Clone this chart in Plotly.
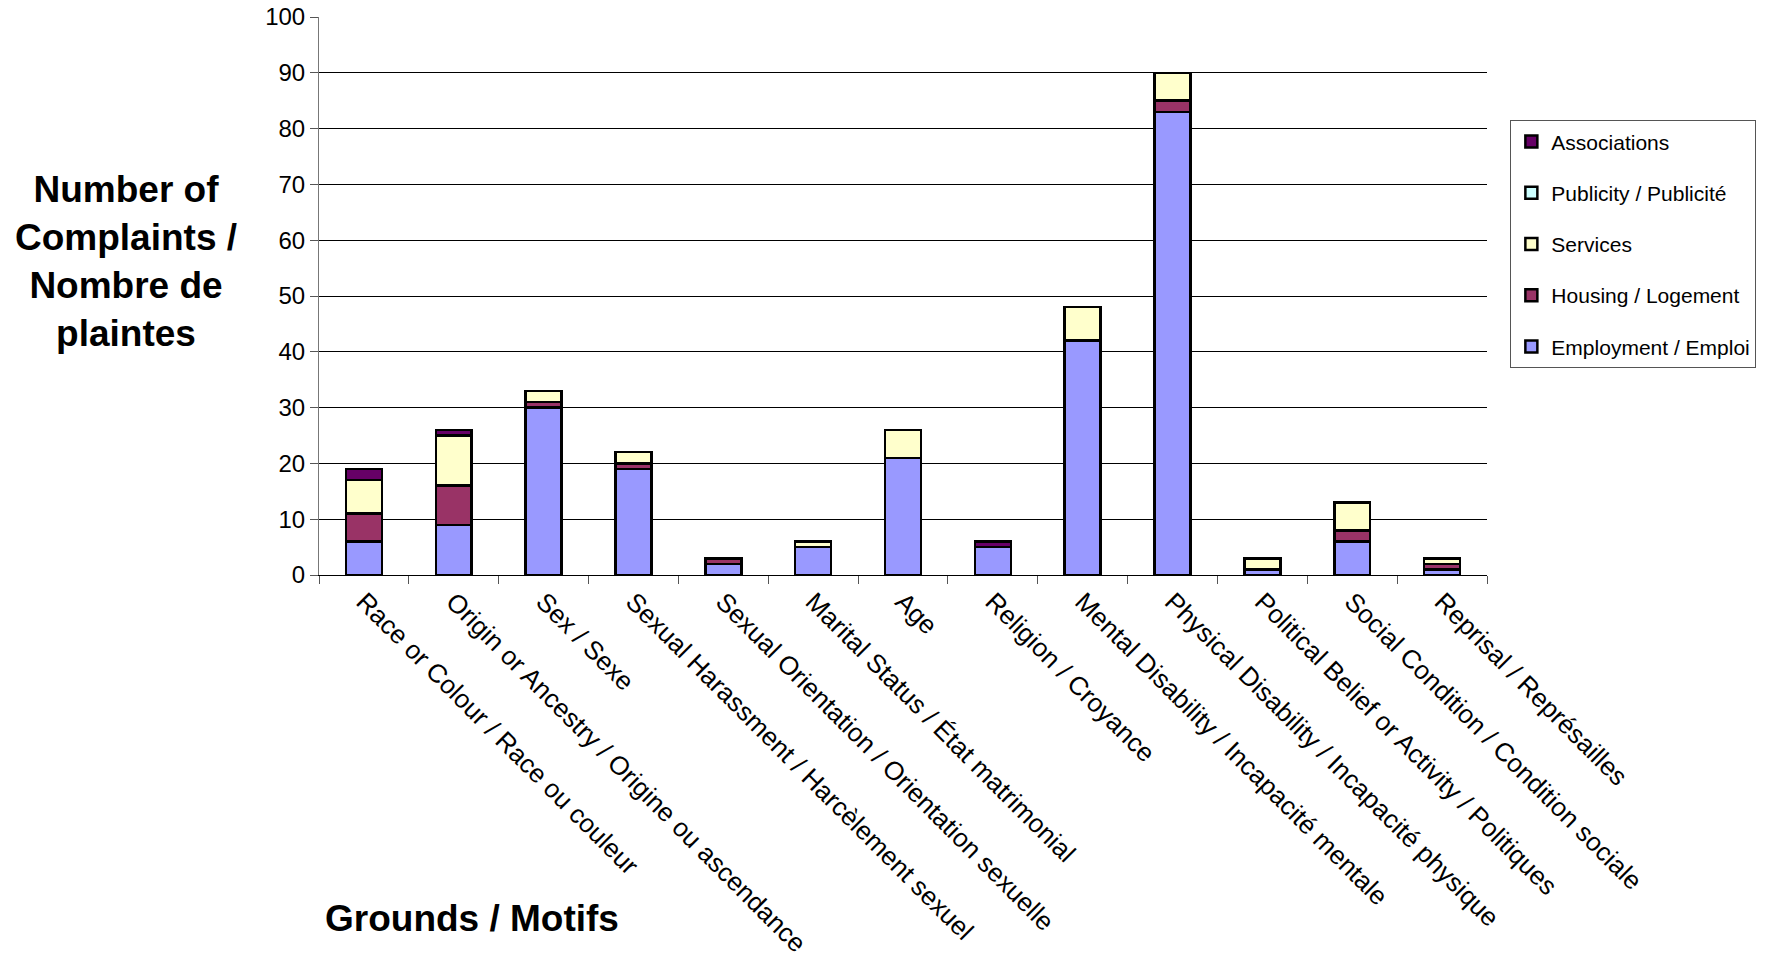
import plotly.graph_objects as go

categories = [
    "Race or Colour / Race ou couleur",
    "Origin or Ancestry / Origine ou ascendance",
    "Sex / Sexe",
    "Sexual Harassment / Harcèlement sexuel",
    "Sexual Orientation / Orientation sexuelle",
    "Marital Status / État matrimonial",
    "Age",
    "Religion / Croyance",
    "Mental Disability / Incapacité mentale",
    "Physical Disability / Incapacité physique",
    "Political Belief or Activity / Politiques",
    "Social Condition / Condition sociale",
    "Reprisal / Représailles",
]

employment = [6, 9, 30, 19, 2, 5, 21, 5, 42, 83, 1, 6, 1]
housing = [5, 7, 1, 1, 1, 0, 0, 0, 0, 2, 0, 2, 1]
services = [6, 9, 2, 2, 0, 1, 5, 0, 6, 5, 2, 5, 1]
publicity = [0, 0, 0, 0, 0, 0, 0, 0, 0, 0, 0, 0, 0]
associations = [2, 1, 0, 0, 0, 0, 0, 1, 0, 0, 0, 0, 0]

series = [
    ("Employment / Emploi", employment, "#9999FF"),
    ("Housing / Logement", housing, "#993366"),
    ("Services", services, "#FFFFCC"),
    ("Publicity / Publicité", publicity, "#CCFFFF"),
    ("Associations", associations, "#660066"),
]

FONT = "Liberation Sans, Arial, sans-serif"

fig = go.Figure()
for i, (name, vals, col) in enumerate(series):
    fig.add_trace(go.Bar(
        x=categories, y=vals, name=name, legendgroup=name,
        legendrank=1000 - i,
        marker=dict(color=col, line=dict(color="black", width=2.5)),
    ))

fig.update_layout(
    barmode="stack",
    bargap=0.6,
    width=1792, height=964,
    margin=dict(l=319, r=305, t=17, b=389),
    paper_bgcolor="white", plot_bgcolor="white",
    font=dict(family=FONT, size=24, color="black"),
    showlegend=True,
    legend=dict(
        x=1.02, y=0.815, xanchor="left", yanchor="top",
        traceorder="grouped", tracegroupgap=21,
        bordercolor="#555555", borderwidth=1,
        font=dict(family=FONT, size=21, color="black"),
        itemwidth=30,
    ),
    xaxis=dict(
        type="category", tickangle=45, ticks="outside", tickson="boundaries",
        ticklen=8, tickcolor="#555555", showline=True, linecolor="black",
        linewidth=1, showgrid=False, automargin=False,
        tickfont=dict(family=FONT, size=26, color="black"),
    ),
    yaxis=dict(
        range=[0, 100], dtick=10, ticks="outside", ticklen=8,
        tickcolor="#555555", showline=True, linecolor="#777777", linewidth=1,
        showgrid=True, gridcolor="black", gridwidth=1, automargin=False,
        tickfont=dict(family=FONT, size=24, color="black"),
        zeroline=False,
    ),
    annotations=[
        dict(
            text="<b>Number of<br>Complaints /<br>Nombre de<br>plaintes</b>",
            xref="paper", yref="paper", x=-0.165, y=0.561,
            xanchor="center", yanchor="middle", showarrow=False,
            font=dict(family=FONT, size=37, color="black"), align="center",
        ),
        dict(
            text="<b>Grounds / Motifs</b>",
            xref="paper", yref="paper", x=0.003, y=-0.615,
            xanchor="left", yanchor="middle", showarrow=False,
            font=dict(family=FONT, size=37, color="black"),
        ),
    ],
)

fig.write_html("out.html")
